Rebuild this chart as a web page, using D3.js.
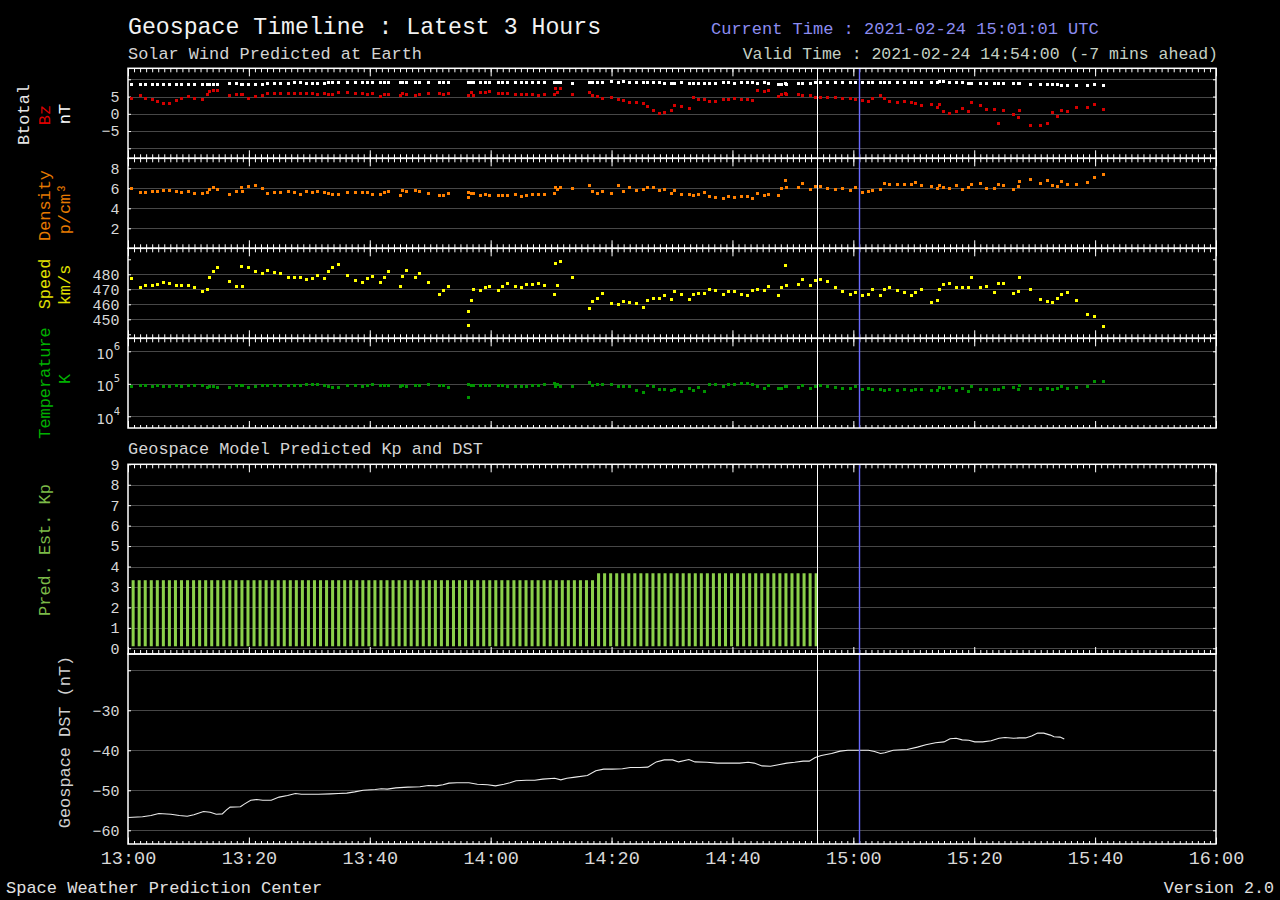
<!DOCTYPE html>
<html>
<head>
<meta charset="utf-8">
<script src="https://cdn.jsdelivr.net/npm/d3@7"></script>
<style>
  body { margin: 0; background: #000; }
  svg { display: block; }
  text { font-family: "Liberation Mono", monospace; }
</style>
</head>
<body>
<div id="chart"></div>
<script>
// DATA ------------------------------------
// solar wind samples, minutes after 13:00 UTC
const swMin = [
  0.50, 1.99, 2.87, 3.98, 4.86, 5.85, 6.85, 7.95, 8.83, 9.93,
  10.93, 12.25, 13.08, 13.41, 14.07, 14.84, 16.72, 17.88, 18.70, 18.98,
  19.86, 21.02, 22.18, 23.01, 24.17, 25.21, 26.48, 27.47, 28.47, 29.52,
  30.45, 31.28, 32.50, 33.10, 33.87, 34.76, 36.25, 37.57, 38.73, 39.55,
  40.38, 41.71, 42.37, 43.03, 45.02, 45.35, 46.01, 47.50, 48.16, 49.65,
  51.47, 52.13, 52.96, 56.30, 56.40, 56.90, 57.10, 58.25, 59.08, 59.85,
  61.23, 62.01, 62.83, 64.05, 65.04, 65.92, 66.92, 67.85, 68.96, 70.50,
  70.72, 71.05, 71.49, 73.48, 76.35, 76.90, 77.62, 78.44, 79.99, 81.09,
  81.92, 83.02, 84.13, 85.28, 85.95, 86.88, 87.88, 88.76, 89.92, 90.36,
  91.57, 92.84, 93.50, 94.44, 95.43, 96.15, 97.20, 98.47, 99.35, 100.29,
  101.44, 102.44, 103.27, 104.09, 105.25, 105.91, 107.57, 108.06, 108.73, 108.95,
  110.88, 111.54, 112.86, 113.69, 114.52, 115.68, 117.00, 118.27, 119.48, 120.31,
  121.52, 122.46, 123.12, 124.50, 125.11, 125.99, 127.26, 128.42, 129.58, 130.35,
  131.23, 132.94, 133.88, 134.21, 134.87, 135.86, 137.13, 138.13, 139.12, 139.51,
  141.11, 141.99, 143.42, 144.03, 144.80, 146.46, 147.28, 147.56, 149.27, 150.92,
  152.08, 152.91, 153.74, 154.40, 155.39, 156.88, 158.70, 159.86, 161.46
];
const btotal = [
  8.5, 8.5, 8.5, 8.5, 8.5, 8.5, 8.5, 8.5, 8.5, 8.5,
  8.5, 8.5, 8.5, 8.5, 8.5, 8.5, 8.7, 8.7, 8.5, 8.5,
  8.5, 8.5, 8.5, 8.7, 8.8, 8.8, 8.8, 9.0, 9.0, 8.8,
  8.8, 8.8, 8.8, 9.1, 9.0, 9.0, 9.0, 9.0, 9.1, 9.1,
  9.1, 9.1, 9.1, 9.1, 9.1, 9.1, 9.1, 9.1, 9.1, 9.1,
  9.1, 9.1, 9.1, 9.1, 9.1, 9.1, 9.1, 9.1, 9.1, 9.1,
  9.1, 9.1, 9.1, 9.1, 9.1, 9.1, 9.1, 9.1, 9.1, 9.1,
  9.1, 9.1, 9.1, 8.9, 9.1, 9.1, 9.1, 9.1, 9.3, 9.1,
  9.3, 9.1, 9.1, 9.1, 9.1, 9.1, 9.1, 8.9, 8.9, 8.9,
  9.1, 8.9, 8.9, 8.8, 8.8, 8.8, 8.9, 9.1, 9.1, 8.9,
  9.1, 9.1, 9.1, 8.9, 9.1, 8.8, 8.5, 8.5, 8.8, 8.5,
  8.8, 8.8, 8.9, 9.1, 9.1, 9.1, 9.1, 9.1, 9.1, 9.1,
  9.1, 9.1, 9.1, 9.1, 9.1, 9.1, 9.1, 9.1, 9.1, 9.1,
  9.1, 9.1, 9.1, 9.3, 9.3, 9.1, 9.1, 9.1, 8.8, 8.8,
  8.8, 8.8, 8.8, 8.7, 8.8, 8.8, 8.7, 8.8, 8.6, 8.5,
  8.5, 8.5, 8.5, 8.3, 8.2, 8.3, 8.3, 8.5, 8.3
];
const bz = [
  4.4, 5.3, 4.5, 4.1, 3.5, 3.0, 2.9, 3.8, 4.4, 5.0,
  4.5, 4.1, 5.5, 6.5, 6.8, 6.8, 5.3, 5.7, 5.7, 5.7,
  4.5, 5.0, 5.3, 5.9, 5.9, 5.9, 5.9, 5.9, 5.9, 5.9,
  5.9, 5.7, 5.9, 5.7, 5.6, 6.1, 6.2, 5.9, 5.9, 5.7,
  5.9, 5.0, 5.6, 5.6, 5.3, 5.9, 5.7, 5.2, 5.6, 5.9,
  5.9, 5.7, 5.9, 5.4, 5.4, 6.2, 5.3, 6.2, 6.2, 6.4,
  5.9, 5.9, 5.9, 5.6, 5.6, 5.6, 5.6, 5.3, 5.6, 5.6,
  7.35, 6.1, 7.35, 5.6, 6.2, 5.4, 5.0, 4.5, 4.7, 4.2,
  3.8, 3.2, 3.2, 2.9, 2.1, 0.9, 0.0, 0.3, 0.9, 2.5,
  2.1, 1.5, 4.7, 4.2, 4.2, 3.5, 3.7, 4.1, 4.2, 4.4,
  4.1, 4.1, 3.8, 6.8, 6.5, 6.8, 5.0, 5.6, 5.9, 5.6,
  5.6, 5.4, 5.3, 4.7, 4.8, 4.7, 4.7, 4.4, 4.4, 4.1,
  3.8, 3.5, 4.5, 5.3, 4.4, 3.5, 3.2, 3.5, 3.2, 2.9,
  2.5, 2.6, 1.8, 2.6, 0.6, 0.0, 0.8, 1.5, 0.6, 3.2,
  2.5, 1.3, 1.2, -2.8, 0.9, -0.2, -1.2, 0.9, -3.4, -3.5,
  -2.9, 0.5, -0.9, 0.9, 0.6, 1.7, 1.8, 2.6, 1.2
];
const density = [
  5.97, 5.6, 5.63, 5.7, 5.7, 5.8, 5.8, 5.7, 5.57, 5.7,
  5.5, 5.47, 5.57, 5.9, 6.07, 5.93, 5.4, 5.67, 6.1, 5.67,
  6.17, 6.3, 5.97, 5.5, 5.6, 5.57, 5.7, 5.6, 5.4, 5.7,
  5.6, 5.7, 5.6, 5.5, 5.4, 5.4, 5.6, 5.6, 5.6, 5.6,
  5.37, 5.4, 5.6, 5.7, 5.3, 5.8, 5.7, 5.8, 5.7, 5.53,
  5.27, 5.27, 5.47, 5.6, 5.1, 5.5, 5.5, 5.3, 5.4, 5.3,
  5.3, 5.3, 5.3, 5.37, 5.2, 5.3, 5.4, 5.4, 5.4, 5.5,
  6.1, 5.9, 6.1, 6.0, 6.3, 5.7, 5.5, 5.7, 5.5, 6.3,
  5.7, 6.1, 5.8, 5.9, 6.1, 6.1, 5.8, 5.9, 5.5, 5.8,
  5.4, 5.37, 5.3, 5.4, 5.6, 5.2, 5.1, 5.0, 5.23, 5.1,
  5.2, 5.2, 5.0, 5.5, 5.3, 5.4, 5.3, 6.0, 6.77, 6.1,
  6.1, 6.5, 5.9, 6.2, 6.2, 5.97, 5.9, 6.0, 5.8, 6.1,
  5.6, 5.67, 5.8, 5.9, 6.5, 6.37, 6.4, 6.4, 6.4, 6.6,
  6.3, 6.17, 6.0, 6.3, 6.1, 6.0, 6.27, 5.9, 6.1, 6.4,
  6.5, 6.0, 6.0, 6.4, 6.3, 5.9, 6.2, 6.7, 6.9, 6.5,
  6.8, 6.3, 6.2, 6.7, 6.4, 6.4, 6.6, 7.1, 7.43
];
const speed = [
  477.3, 471.3, 472.7, 472.7, 473.3, 474.7, 473.8, 472.7, 472.7, 472.7,
  471.3, 468.7, 470.0, 478.0, 481.8, 484.7, 475.1, 472.0, 485.3, 472.0,
  484.7, 482.0, 480.7, 482.7, 481.3, 480.7, 478.0, 478.0, 478.0, 476.7,
  477.1, 479.3, 477.1, 482.0, 484.7, 486.7, 479.3, 476.0, 474.7, 477.1,
  478.7, 474.7, 478.0, 482.0, 472.0, 478.7, 482.7, 478.0, 480.7, 474.4,
  466.4, 469.3, 472.0, 455.3, 445.8, 462.4, 470.0, 468.9, 471.1, 472.0,
  469.3, 472.0, 473.8, 472.0, 471.1, 473.1, 473.3, 474.0, 472.7, 466.7,
  487.3, 472.4, 488.7, 478.0, 456.9, 462.0, 464.0, 466.9, 460.7, 460.0,
  462.0, 461.3, 460.7, 458.0, 462.7, 464.0, 464.0, 466.0, 463.3, 468.7,
  466.7, 463.3, 466.7, 466.9, 466.9, 470.0, 469.3, 466.7, 468.7, 468.7,
  466.7, 466.0, 469.3, 470.0, 469.3, 472.0, 466.0, 471.3, 485.8, 472.7,
  473.1, 476.7, 472.7, 475.6, 476.7, 475.3, 471.3, 468.7, 466.7, 467.6,
  466.0, 466.7, 470.0, 466.0, 470.0, 471.3, 469.3, 467.8, 466.0, 468.0,
  470.0, 461.3, 462.4, 470.0, 473.3, 474.0, 471.3, 471.3, 471.1, 477.8,
  471.1, 472.0, 467.6, 473.8, 474.0, 466.9, 468.7, 478.2, 470.0, 463.3,
  462.0, 461.3, 464.0, 466.7, 468.0, 462.7, 453.3, 452.0, 445.3
];
const temperature = [
  85100, 89100, 89100, 81300, 89100, 85100, 85100, 89100, 85100, 89100,
  89100, 89100, 75900, 81300, 81300, 79400, 75900, 91200, 87100, 87100,
  75900, 81300, 87100, 91200, 87100, 91200, 91200, 91200, 89100, 93300,
  93300, 93300, 89100, 83200, 79400, 79400, 87100, 87100, 81300, 87100,
  93300, 87100, 87100, 87100, 81300, 87100, 85100, 87100, 87100, 93300,
  87100, 87100, 75900, 93300, 37200, 87100, 87100, 89100, 87100, 87100,
  87100, 87100, 81300, 81300, 85100, 81300, 87100, 87100, 93300, 100000,
  83200, 93300, 81300, 83200, 112200, 87100, 93300, 93300, 93300, 81300,
  85100, 81300, 63100, 55000, 87100, 85100, 64600, 64600, 61700, 64600,
  58900, 69200, 61700, 75900, 56200, 93300, 93300, 81300, 97700, 97700,
  104700, 104700, 97700, 81300, 70800, 87100, 70800, 70800, 81300, 81300,
  75900, 87100, 70800, 81300, 87100, 81300, 75900, 74100, 70800, 81300,
  64600, 70800, 64600, 64600, 60300, 64600, 60300, 64600, 60300, 64600,
  64600, 60300, 60300, 75900, 70800, 75900, 60300, 70800, 58900, 81300,
  64600, 64600, 64600, 64600, 75900, 75900, 64600, 87100, 70800, 67600,
  70800, 64600, 70800, 81300, 70800, 79400, 81300, 114800, 114800
];

// predicted Kp, one bar per minute from 13:01 to 14:54
const kpVal = [
  3.33, 3.33, 3.33, 3.33, 3.33, 3.33, 3.33, 3.33, 3.33, 3.33, 3.33,
  3.33, 3.33, 3.33, 3.33, 3.33, 3.33, 3.33, 3.33, 3.33, 3.33, 3.33,
  3.33, 3.33, 3.33, 3.33, 3.33, 3.33, 3.33, 3.33, 3.33, 3.33, 3.33,
  3.33, 3.33, 3.33, 3.33, 3.33, 3.33, 3.33, 3.33, 3.33, 3.33, 3.33,
  3.33, 3.33, 3.33, 3.33, 3.33, 3.33, 3.33, 3.33, 3.33, 3.33, 3.33,
  3.33, 3.33, 3.33, 3.33, 3.33, 3.33, 3.33, 3.33, 3.33, 3.33, 3.33,
  3.33, 3.33, 3.33, 3.33, 3.33, 3.33, 3.33, 3.33, 3.33, 3.33, 3.33,
  3.67, 3.67, 3.67, 3.67, 3.67, 3.67, 3.67, 3.67, 3.67, 3.67,
  3.67, 3.67, 3.67, 3.67, 3.67, 3.67, 3.67, 3.67, 3.67, 3.67,
  3.67, 3.67, 3.67, 3.67, 3.67, 3.67, 3.67, 3.67, 3.67, 3.67,
  3.67, 3.67, 3.67, 3.67, 3.67, 3.67, 3.67
];

// geospace DST, minutes after 13:00
const dstMin = [
  0, 2.4, 3.8, 5.1, 7.1, 8.5, 9.8, 10.9, 12.5, 13.6,
  14.6, 15.6, 16.3, 16.9, 18.6, 19.3, 20.3, 21.3, 22.3, 23.7,
  25.0, 26.4, 27.7, 28.7, 31.5, 33.5, 34.8, 36.2, 37.5, 38.9,
  40.9, 41.9, 42.9, 44.3, 46.3, 48.3, 49.7, 51.0, 52.1, 53.1,
  54.4, 56.4, 57.8, 59.5, 60.8, 62.2, 63.2, 64.2, 65.9, 67.3,
  68.6, 70.6, 71.6, 72.6, 74.0, 76.0, 77.4, 78.7, 80.1, 81.8,
  83.1, 84.7, 86.0, 87.4, 88.7, 90.1, 91.1, 92.8, 93.8, 95.8,
  97.5, 101.2, 102.6, 103.6, 104.9, 106.3, 107.6, 109.0, 110.3, 111.7,
  112.7, 113.7, 114.7, 116.4, 117.8, 119.1, 122.5, 123.5, 124.5, 125.2,
  126.6, 128.9, 130.6, 132.0, 133.6, 135.0, 136.0, 137.0, 138.0, 139.1,
  140.1, 141.4, 142.8, 144.1, 145.1, 146.5, 147.5, 148.5, 149.5, 150.5,
  151.5, 152.6, 153.2, 154.2, 154.9
];
const dstVal = [
  -56.8, -56.6, -56.3, -55.8, -56.0, -56.3, -56.5, -56.1, -55.3, -55.5,
  -56.0, -55.9, -54.9, -54.2, -54.1, -53.4, -52.5, -52.3, -52.5, -52.5,
  -51.7, -51.3, -50.8, -51.0, -51.0, -50.9, -50.8, -50.7, -50.4, -50.0,
  -49.8, -49.6, -49.7, -49.4, -49.2, -49.1, -48.8, -48.9, -48.6, -48.2,
  -48.1, -48.1, -48.5, -48.6, -48.9, -48.5, -48.1, -47.6, -47.5, -47.5,
  -47.2, -47.0, -47.4, -47.0, -46.7, -46.3, -45.1, -44.7, -44.7, -44.6,
  -44.3, -44.3, -44.2, -42.9, -42.4, -42.4, -42.9, -42.3, -42.9, -43.0,
  -43.2, -43.2, -43.0, -43.2, -43.9, -44.0, -43.6, -43.2, -43.0, -42.7,
  -42.7, -41.8, -41.3, -40.8, -40.2, -40.0, -40.0, -40.3, -40.8, -40.6,
  -40.0, -39.8, -39.2, -38.6, -38.1, -37.9, -37.1, -37.0, -37.4, -37.5,
  -37.9, -37.9, -37.6, -37.0, -36.8, -37.0, -36.9, -36.9, -36.4, -35.7,
  -35.7, -36.2, -36.6, -36.7, -37.2
];

const validMin = 114;          // 14:54:00
const currentMin = 121.0167;   // 15:01:01

// CHART INIT ------------------------------
const left = 128, right = 1216;
const t0 = Date.UTC(2021, 1, 24, 13, 0, 0);
const toDate = m => new Date(t0 + m * 60000);

const svg = d3.select("#chart").append("svg")
    .attr("width", 1280)
    .attr("height", 900)
    .style("background", "#000");

const x = d3.scaleUtc()
    .domain([toDate(0), toDate(180)])
    .range([left, right]);

const gridColor = "#474747";
const labelColor = "#d8d8d8";

// panel layout (frame top/bottom + y scale)
const panels = {
  mag:  {top: 68.3, bottom: 158.3, y: d3.scaleLinear().domain([-10, 10]).range([148.3, 79.3]),
         grid: [-10, -5, 0, 5, 10], ticks: [-10, -5, 0, 5, 10], labels: [5, 0, -5]},
  dens: {top: 158.3, bottom: 248.3, y: d3.scaleLinear().domain([0, 9]).range([248.3, 158.3]),
         grid: [2, 4, 6, 8], ticks: [2, 4, 6, 8], labels: [2, 4, 6, 8]},
  spd:  {top: 248.3, bottom: 338.3, y: d3.scaleLinear().domain([450, 480]).range([319.3, 274.3]),
         grid: [450, 460, 470, 480], ticks: [440, 450, 460, 470, 480, 490], labels: [450, 460, 470, 480]},
  temp: {top: 338.3, bottom: 428, y: d3.scaleLog().domain([1e4, 1e6]).range([416.3, 351.3]),
         grid: [1e4, 1e5, 1e6], ticks: [1e4, 1e5, 1e6], labels: []},
  kp:   {top: 464.3, bottom: 654, y: d3.scaleLinear().domain([0, 9]).range([648.3, 464.3]),
         grid: [0, 1, 2, 3, 4, 5, 6, 7, 8], ticks: [0, 1, 2, 3, 4, 5, 6, 7, 8, 9], labels: [0, 1, 2, 3, 4, 5, 6, 7, 8, 9]},
  dst:  {top: 654, bottom: 844, y: d3.scaleLinear().domain([-20, -60]).range([670.3, 830.3]),
         grid: [-20, -30, -40, -50, -60], ticks: [-20, -30, -40, -50, -60], labels: [-30, -40, -50, -60]}
};

// y grid, ticks and labels
Object.values(panels).forEach(p => {
  svg.append("g")
      .attr("transform", `translate(${left},0)`)
      .attr("color", gridColor)
      .attr("shape-rendering", "crispEdges")
      .call(d3.axisLeft(p.y).tickValues(p.grid).tickSize(-(right - left)).tickFormat(""))
      .call(g => g.select(".domain").remove());

  svg.append("g")
      .attr("transform", `translate(${left},0)`)
      .attr("color", "#fff")
      .call(d3.axisLeft(p.y).tickValues(p.ticks).tickSize(-3).tickFormat(""))
      .call(g => g.select(".domain").remove());

  svg.append("g")
      .attr("transform", `translate(${right},0)`)
      .attr("color", "#fff")
      .call(d3.axisRight(p.y).tickValues(p.ticks).tickSize(-3).tickFormat(""))
      .call(g => g.select(".domain").remove());

  const lab = svg.append("g")
      .attr("transform", `translate(${left},0)`)
      .call(d3.axisLeft(p.y).tickValues(p.labels).tickSize(0).tickPadding(8.5))
      .call(g => g.select(".domain").remove());
  lab.attr("color", labelColor).attr("font-family", "DejaVu Sans").attr("font-size", 15);
});

// temperature labels 10^n
panels.temp.grid.forEach(v => {
  const t = svg.append("text")
      .attr("x", 120)
      .attr("y", panels.temp.y(v) + 7.5)
      .attr("text-anchor", "end")
      .attr("fill", labelColor)
      .style("font-family", "DejaVu Sans")
      .style("font-size", "13.5px")
      .text("10");
  t.append("tspan")
      .attr("dy", -9)
      .style("font-size", "10px")
      .text(Math.round(Math.log10(v)));
});

// x ticks along frames
function xTicks(yPos, dir, minor, major) {
  const mk = dir === "down" ? d3.axisBottom : d3.axisTop;
  [[d3.utcMinute.every(1), minor], [d3.utcMinute.every(20), major]].forEach(([iv, len]) => {
    svg.append("g")
        .attr("transform", `translate(0,${yPos})`)
        .attr("color", "#fff")
        .call(mk(x).ticks(iv).tickSize(len).tickFormat(""))
        .call(g => g.select(".domain").remove());
  });
}
xTicks(panels.mag.top, "down", 4, 8);
[panels.dens, panels.spd, panels.temp].forEach(p => xTicks(p.top, "down", 4, 8));
[panels.mag, panels.dens, panels.spd].forEach(p => xTicks(p.bottom, "up", 4, 8));
xTicks(panels.temp.bottom, "up", 3, 7);
xTicks(panels.kp.top, "down", 4, 8);
xTicks(panels.kp.bottom, "up", 4, 7);
xTicks(panels.dst.bottom, "up", 3, 6.5);

// time labels
svg.append("g")
    .attr("transform", `translate(0,${panels.dst.bottom})`)
    .call(d3.axisBottom(x).ticks(d3.utcMinute.every(20)).tickFormat(d3.utcFormat("%H:%M")).tickSize(0))
    .call(g => g.select(".domain").remove())
    .call(g => g.selectAll("text").attr("y", 20).attr("dy", 0)
        .attr("fill", labelColor)
        .style("font-family", "Liberation Mono")
        .style("font-size", "18.5px"));

// SOLAR WIND MARKERS ----------------------
function squares(vals, p, color) {
  svg.append("g")
      .attr("fill", color)
      .attr("shape-rendering", "crispEdges")
    .selectAll("rect")
    .data(vals.map((v, i) => ({t: toDate(swMin[i]), v: v})))
    .join("rect")
      .attr("x", d => x(d.t) - 1.5)
      .attr("y", d => p.y(d.v) - 1.5)
      .attr("width", 3)
      .attr("height", 3);
}
squares(btotal, panels.mag, "#ffffff");
squares(bz, panels.mag, "#d40000");
squares(density, panels.dens, "#ff8000");
squares(speed, panels.spd, "#ffff00");
squares(temperature, panels.temp, "#009400");

// KP BARS ---------------------------------
const yKp = panels.kp.y;
svg.append("g")
    .attr("fill", "#8bd04a")
  .selectAll("rect")
  .data(kpVal.map((v, i) => ({m: i + 1, v: v})))
  .join("rect")
    .attr("x", d => x(toDate(d.m - 0.4)))
    .attr("width", d => x(toDate(d.m + 0.1)) - x(toDate(d.m - 0.4)))
    .attr("y", d => yKp(d.v))
    .attr("height", d => yKp(0.1) - yKp(d.v));

// DST LINE --------------------------------
const line = d3.line()
    .x(d => x(toDate(d[0])))
    .y(d => panels.dst.y(d[1]));
svg.append("path")
    .datum(dstMin.map((m, i) => [m, dstVal[i]]))
    .attr("d", line)
    .attr("fill", "none")
    .attr("stroke", "#ececec")
    .attr("stroke-width", 1.1);

// vertical markers: valid time (white) and current time (blue)
Object.values(panels).forEach(p => {
  [[validMin, "#ffffff", 1], [currentMin, "#6a6aff", 1.4]].forEach(([m, c, w]) => {
    const xp = Math.round(x(toDate(m))) + 0.5;
    svg.append("line")
        .attr("x1", xp).attr("x2", xp)
        .attr("y1", p.top).attr("y2", p.bottom)
        .attr("stroke", c)
        .attr("stroke-width", w);
  });
});

// FRAMES ----------------------------------
Object.values(panels).forEach(p => {
  svg.append("rect")
      .attr("x", left).attr("y", p.top)
      .attr("width", right - left).attr("height", p.bottom - p.top)
      .attr("fill", "none")
      .attr("stroke", "#fff")
      .attr("stroke-width", 1.5);
});

// TEXT ------------------------------------
function txt(s, xp, yp, size, color, anchor) {
  return svg.append("text")
      .attr("x", xp).attr("y", yp)
      .attr("text-anchor", anchor || "start")
      .attr("fill", color)
      .style("font-size", size + "px")
      .text(s);
}
txt("Geospace Timeline : Latest 3 Hours", 128, 33.5, 23.2, "#f2f2f2");
txt("Solar Wind Predicted at Earth", 128, 58.5, 16.9, "#d4d4d4");
txt("Current Time : 2021-02-24 15:01:01 UTC", 711, 33.5, 17, "#8c8cf0");
txt("Valid Time : 2021-02-24 14:54:00 (-7 mins ahead)", 1218, 59, 16.5, "#c4d0c4", "end");
txt("Geospace Model Predicted Kp and DST", 128, 454, 16.9, "#d4d4d4");
txt("Space Weather Prediction Center", 6, 893, 17, "#e0e0e0");
txt("Version 2.0", 1274, 893, 16.7, "#e0e0e0", "end");

// rotated axis titles
function vlabel(s, cx, cy, color) {
  svg.append("text")
      .attr("transform", `translate(${cx},${cy}) rotate(-90)`)
      .attr("text-anchor", "middle")
      .attr("dominant-baseline", "central")
      .attr("fill", color)
      .style("font-size", "16.9px")
      .text(s);
}
vlabel("Btotal", 24, 114.5, "#e6e6e6");
vlabel("Bz", 45, 115, "#dd0000");
vlabel("nT", 65, 114, "#ffffff");
vlabel("Density", 45, 205.5, "#e67a00");
vlabel("p/cm³", 65, 209, "#e67a00");
vlabel("Speed", 45, 284, "#e0e000");
vlabel("km/s", 65, 285, "#e0e000");
vlabel("Temperature", 45, 383, "#00b000");
vlabel("K", 65, 379, "#00b000");
vlabel("Pred. Est. Kp", 45, 550, "#7cba48");
vlabel("Geospace DST (nT)", 65, 742, "#d0d0d0");
</script>
</body>
</html>
